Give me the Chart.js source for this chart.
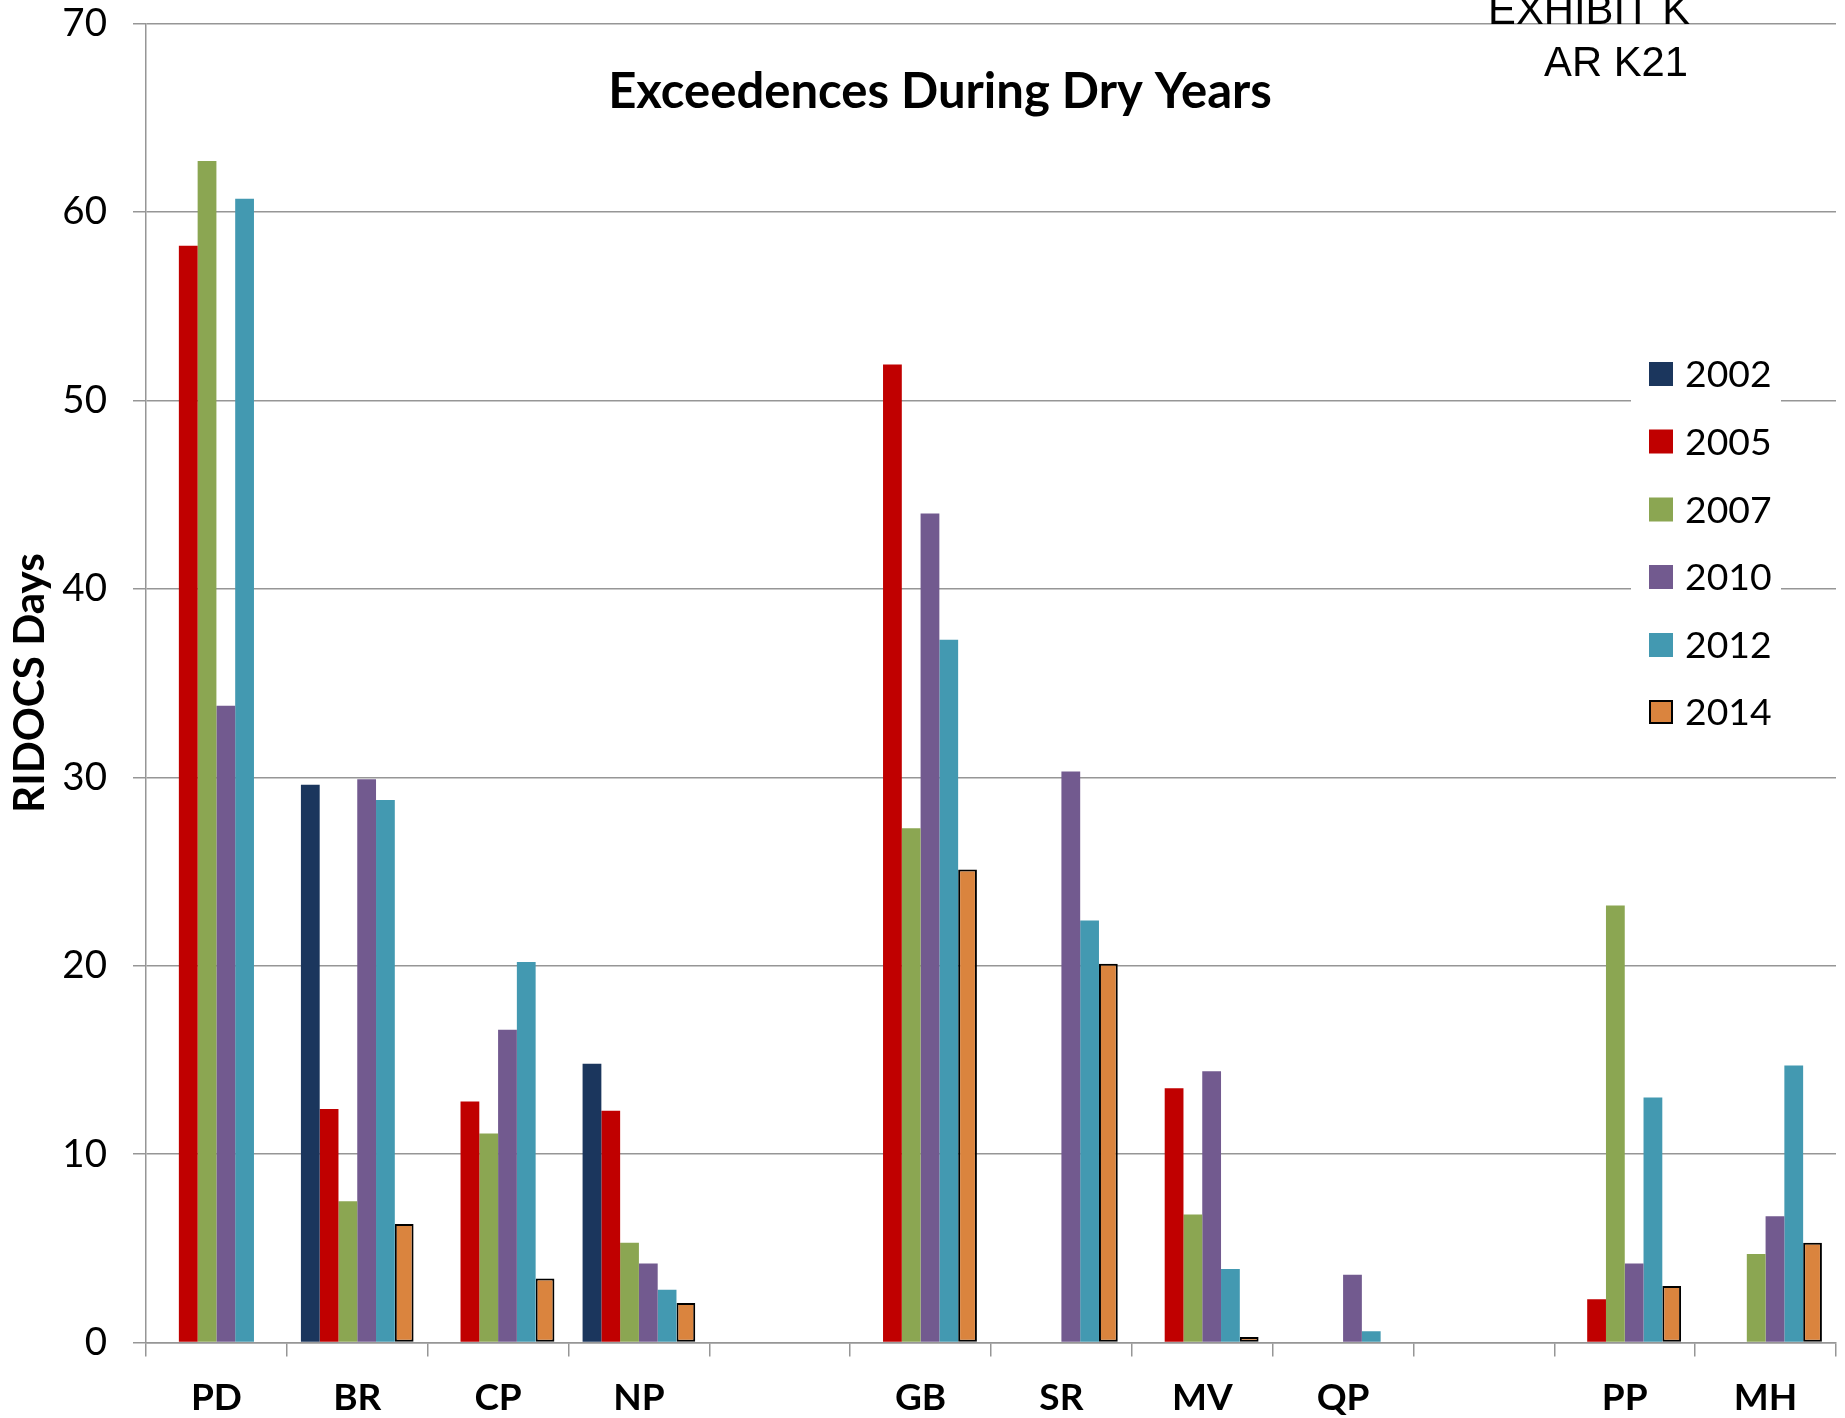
<!DOCTYPE html>
<html>
<head>
<meta charset="utf-8">
<script src="https://cdn.jsdelivr.net/npm/chart.js@4.4.1/dist/chart.umd.min.js"></script>
<style>
  html, body { margin: 0; padding: 0; background: #fff; }
  #wrap { position: relative; width: 1845px; height: 1418px; }
</style>
</head>
<body>
<div id="wrap"><canvas id="c" width="1845" height="1418"></canvas></div>
<script>
// ---- data ----
const categories = ['PD', 'BR', 'CP', 'NP', '', 'GB', 'SR', 'MV', 'QP', '', 'PP', 'MH'];
const seriesNames = ['2002', '2005', '2007', '2010', '2012', '2014'];
const y2002 = [null, 29.6, null, 14.8, null, null, null, null, null, null, null, null];
const y2005 = [58.2, 12.4, 12.8, 12.3, null, 51.9, null, 13.5, null, null, 2.3, null];
const y2007 = [62.7, 7.5, 11.1, 5.3, null, 27.3, null, 6.8, null, null, 23.2, 4.7];
const y2010 = [33.8, 29.9, 16.6, 4.2, null, 44.0, 30.3, 14.4, 3.6, null, 4.2, 6.7];
const y2012 = [60.7, 28.8, 20.2, 2.8, null, 37.3, 22.4, 3.9, 0.6, null, 13.0, 14.7];
const y2014 = [null, 6.3, 3.4, 2.1, null, 25.1, 20.1, 0.3, null, null, 3.0, 5.3];
const yTicks = [0, 10, 20, 30, 40, 50, 60, 70];
const chartTitle = 'Exceedences During Dry Years';
const yAxisTitle = 'RIDOCS Days';
const exhibitLines = ['EXHIBIT K', 'AR K21'];

// ---- styles ----
const colors = ['#1B365D', '#C00000', '#8BA652', '#725A8F', '#4399B1', '#DA843E'];
const FAM = 'Lato, "Open Sans", sans-serif';
const ARIAL = '"Liberation Sans", Arial, sans-serif';
const gridColor = '#969696';

const mctx = document.createElement('canvas').getContext('2d');
function fit(text, weight, family, targetW) {
  mctx.font = weight + ' 100px ' + family;
  return 100 * targetW / mctx.measureText(text).width;
}
const titleSize = fit(chartTitle, 'bold', FAM, 664);
const yTitleSize = fit(yAxisTitle, 'bold', FAM, 260);
const xTickSize = 37;
const yTickSize = 38.5;
const legendSize = 37.3;
const exhibitSize = fit('AR K21', 'normal', ARIAL, 144);

const dataArrays = [y2002, y2005, y2007, y2010, y2012, y2014];
const datasets = seriesNames.map((n, i) => ({
  label: n,
  data: dataArrays[i],
  backgroundColor: colors[i],
  borderColor: i === 5 ? '#000000' : colors[i],
  borderWidth: i === 5 ? 2 : 0,
  borderSkipped: i === 5 ? false : 'start',
  categoryPercentage: 0.8,
  barPercentage: 1.0
}));

const PLOT_LEFT = 146, PLOT_RIGHT = 1836, PLOT_TOP = 23.5, PLOT_BOTTOM = 1342.6;

const overlay = {
  id: 'overlay',
  afterDraw(chart) {
    const ctx = chart.ctx;
    ctx.save();
    // title
    ctx.fillStyle = '#000';
    ctx.font = 'bold ' + titleSize + 'px ' + FAM;
    ctx.textAlign = 'center';
    ctx.textBaseline = 'alphabetic';
    ctx.fillText(chartTitle, 940, 108);
    // exhibit
    ctx.font = exhibitSize + 'px ' + ARIAL;
    ctx.textAlign = 'right';
    ctx.fillText(exhibitLines[0], 1690, 24);
    ctx.fillText(exhibitLines[1], 1688, 76);
    // legend box
    ctx.fillStyle = '#fff';
    ctx.fillRect(1631, 335, 150, 410);
    const rowY = [374, 441.5, 509.5, 577, 645, 712];
    chart.data.datasets.forEach((ds, i) => {
      const cy = rowY[i];
      ctx.fillStyle = ds.backgroundColor;
      ctx.fillRect(1649, cy - 12, 24, 24);
      if (i === 5) {
        ctx.strokeStyle = '#000';
        ctx.lineWidth = 2;
        ctx.strokeRect(1650, cy - 11, 22, 22);
      }
      ctx.fillStyle = '#000';
      ctx.font = legendSize + 'px ' + FAM;
      ctx.textAlign = 'left';
      ctx.textBaseline = 'middle';
      ctx.fillText(ds.label, 1685, cy + 1);
    });
    ctx.restore();
  }
};

new Chart(document.getElementById('c'), {
  type: 'bar',
  data: { labels: categories, datasets },
  options: {
    responsive: false,
    animation: false,
    devicePixelRatio: 1,
    layout: { padding: { top: PLOT_TOP, right: 1845 - PLOT_RIGHT, left: 0, bottom: 0 } },
    plugins: { legend: { display: false }, tooltip: { enabled: false }, title: { display: false } },
    scales: {
      x: {
        afterFit: s => { s.height = 1418 - PLOT_BOTTOM; s.paddingLeft = 0; s.paddingRight = 0; },
        grid: { display: true, offset: true, drawOnChartArea: false, drawTicks: true, tickLength: 14, color: gridColor, lineWidth: 1.5 },
        border: { display: true, color: gridColor, width: 1.5 },
        ticks: { color: '#000', font: { family: FAM, size: xTickSize, weight: 'bold' }, padding: 19, maxRotation: 0, autoSkip: false }
      },
      y: {
        min: 0, max: 70,
        afterFit: s => { s.width = PLOT_LEFT; s.paddingTop = 0; s.paddingBottom = 0; },
        afterBuildTicks: s => { s.ticks = yTicks.map(v => ({ value: v })); },
        grid: { color: gridColor, lineWidth: 1.5, drawTicks: true, tickLength: 13 },
        border: { display: true, color: gridColor, width: 1.5 },
        ticks: { color: '#000', font: { family: FAM, size: yTickSize }, padding: 26 },
        title: { display: true, text: yAxisTitle, color: '#000', font: { family: FAM, size: yTitleSize, weight: 'bold' }, padding: { top: 5, bottom: 0 } }
      }
    }
  },
  plugins: [overlay]
});
</script>
</body>
</html>
